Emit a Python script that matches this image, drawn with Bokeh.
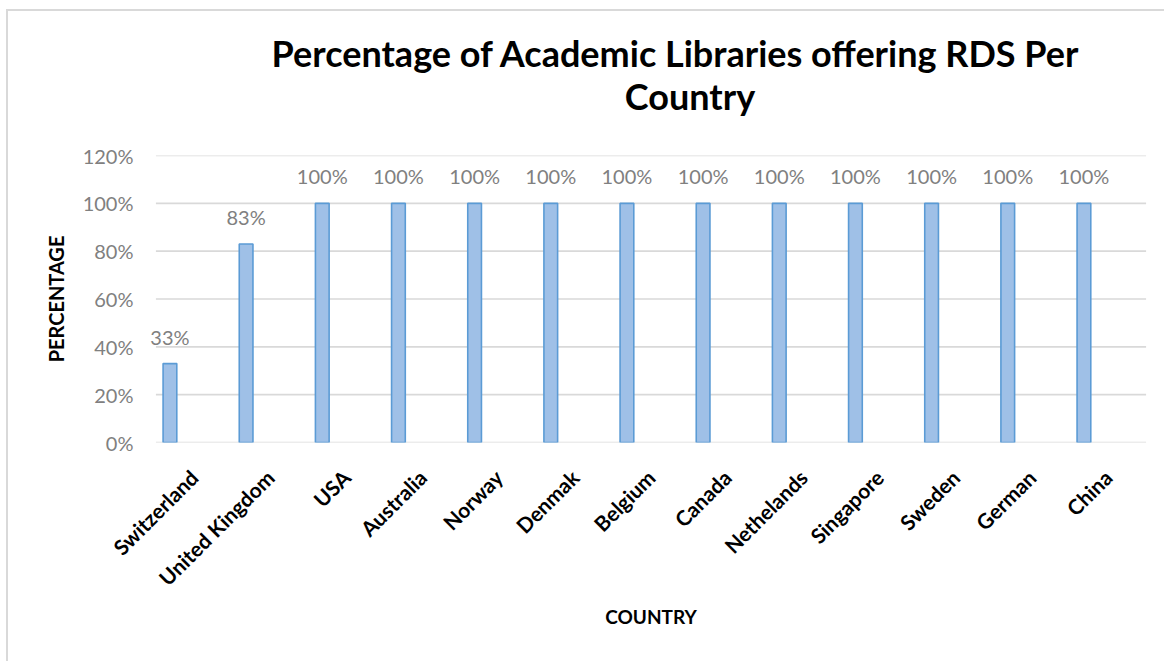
import math
from bokeh.plotting import figure
from bokeh.models import (ColumnDataSource, NumeralTickFormatter, FixedTicker,
                          FactorRange, Div)
from bokeh.core.properties import value
from bokeh.transform import dodge
from bokeh.layouts import column
from bokeh.embed import file_html
from bokeh.resources import INLINE

countries = ["Switzerland", "United Kingdom", "USA", "Australia", "Norway", "Denmak",
             "Belgium", "Canada", "Nethelands", "Singapore", "Sweden", "German", "China"]
values = [0.33, 0.83, 1.0, 1.0, 1.0, 1.0, 1.0, 1.0, 1.0, 1.0, 1.0, 1.0, 1.0]
labels = ["33%", "83%", "100%", "100%", "100%", "100%", "100%", "100%", "100%",
          "100%", "100%", "100%", "100%"]
y_ticks = [0, 0.2, 0.4, 0.6, 0.8, 1.0, 1.2]
title_lines = ["Percentage of Academic Libraries offering RDS Per", "Country"]

FONT = "Lato"
GRAY = "#808080"
GRID = "#d9d9d9"
TITLE_H = 102

src = ColumnDataSource(dict(country=countries, value=values, label=labels))
grid_src = ColumnDataSource(dict(y=y_ticks, x0=[0] * len(y_ticks),
                                 x1=[len(countries)] * len(y_ticks)))

p = figure(x_range=FactorRange(factors=countries, range_padding=0.15,
                               range_padding_units="absolute"),
           y_range=(0, 1.2), width=1156, height=640 - TITLE_H,
           output_backend="svg", toolbar_location=None, title=None,
           min_border_left=136, min_border_right=7, min_border_top=134 - TITLE_H,
           min_border_bottom=219)
p.outline_line_color = None
p.background_fill_color = "white"
p.border_fill_color = "white"

# horizontal gridlines limited to the category span
p.segment(x0="x0", x1="x1", y0="y", y1="y", source=grid_src,
          line_color=GRID, line_width=1.6)

xd = dodge("country", -0.316, range=p.x_range)
p.vbar(x=xd, top="value", width=0.18, source=src,
       fill_color="#9fc0e7", line_color="#5b9bd5", line_width=1.6)
p.text(x=xd, y="value", text="label", source=src, text_align="center",
       text_baseline="bottom", y_offset=-15, text_color=GRAY,
       text_font=value(FONT), text_font_size="20px")

# axes
p.yaxis.ticker = FixedTicker(ticks=y_ticks)
p.yaxis.formatter = NumeralTickFormatter(format="0%")
p.yaxis.axis_line_color = None
p.yaxis.major_tick_line_color = None
p.yaxis.minor_tick_line_color = None
p.yaxis.major_label_text_color = GRAY
p.yaxis.major_label_text_font = FONT
p.yaxis.major_label_text_font_size = "20px"
p.yaxis.major_label_standoff = 5
p.yaxis.axis_label = "PERCENTAGE"
p.yaxis.axis_label_text_font = FONT
p.yaxis.axis_label_text_font_style = "bold"
p.yaxis.axis_label_text_font_size = "20px"
p.yaxis.axis_label_text_color = "black"
p.yaxis.axis_label_standoff = 12

p.xaxis.axis_line_color = None
p.xaxis.major_tick_line_color = None
p.xaxis.minor_tick_line_color = None
p.xaxis.major_label_orientation = math.pi / 4
p.xaxis.major_label_text_color = "black"
p.xaxis.major_label_text_font = FONT
p.xaxis.major_label_text_font_style = "bold"
p.xaxis.major_label_text_font_size = "21px"
p.xaxis.major_label_standoff = 25
p.xaxis.axis_label = "COUNTRY"
p.xaxis.axis_label_text_font = FONT
p.xaxis.axis_label_text_font_style = "bold"
p.xaxis.axis_label_text_font_size = "19px"
p.xaxis.axis_label_text_color = "black"
p.xaxis.axis_label_standoff = 3

p.xgrid.grid_line_color = None
p.ygrid.grid_line_color = None

line_style = ("font-family:Lato;font-weight:bold;font-size:36px;line-height:43px;"
              "color:black;text-align:center;width:900px;white-space:nowrap;")
title_html = (
    f'<div style="height:{TITLE_H}px;overflow:hidden;padding-top:16px;'
    f'box-sizing:border-box">'
    f'<div style="{line_style}margin-left:212px">{title_lines[0]}</div>'
    f'<div style="{line_style}margin-left:227px">{title_lines[1]}</div>'
    f'</div>'
)
title_div = Div(text=title_html, width=1156, height=TITLE_H,
                styles={"overflow": "hidden"})

layout = column(title_div, p, spacing=0,
                styles={"margin-left": "6px", "margin-top": "9px",
                        "border-left": "2px solid #d9d9d9",
                        "border-top": "2px solid #d9d9d9"})

open("out.html", "w").write(file_html(layout, INLINE))
